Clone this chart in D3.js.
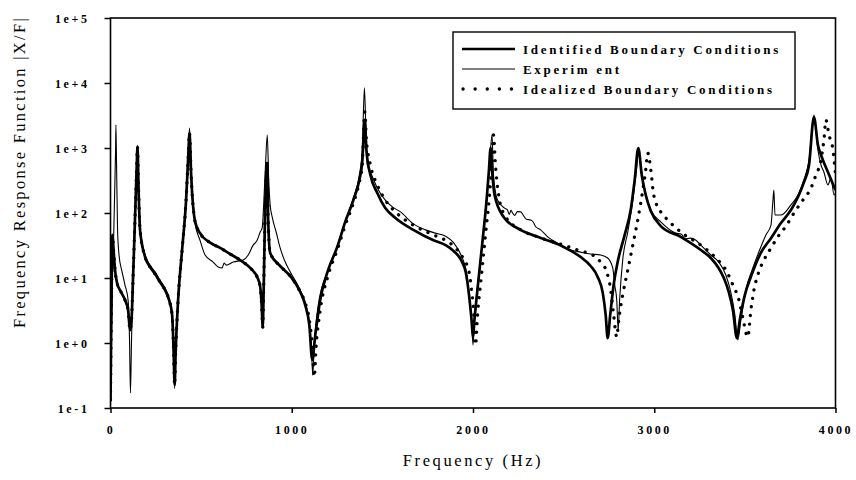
<!DOCTYPE html>
<html>
<head>
<meta charset="utf-8">
<script src="https://cdn.jsdelivr.net/npm/d3@7/dist/d3.min.js"></script>
<style>
  html, body { margin: 0; padding: 0; background: #fff; }
  svg { display: block; }
  text { font-family: "Liberation Serif", "DejaVu Serif", serif; fill: #000; }
</style>
</head>
<body>
<svg id="chart" width="856" height="480"></svg>
<script>
// ---------------- data (Hz, |X/F|) ----------------
const xTicks = [0, 1000, 2000, 3000, 4000];
const yTicks = [1e-1, 1e0, 1e1, 1e2, 1e3, 1e4, 1e5];
const yTickLabels = ["1e-1", "1e+0", "1e+1", "1e+2", "1e+3", "1e+4", "1e+5"];
const legendLabels = ["Identified Boundary Conditions", "Experim ent", "Idealized Boundary Conditions"];

const identified = [
  [0,0.133],[5.5,4.6],[11,46],[17,27],[25,13.3],[36,8.4],[58,6.1],[80,4.6],[97,3.2],[108,1.58],
  [116,2.26],[124,9.3],[135,78],[144,459],[149,1036],[155,226],[163,55],[191,21],[218,14.8],[246,11.5],
  [273,8.7],[301,6.5],[323,4.6],[340,2.7],[348,0.78],[354,0.226],[359,0.65],[373,4.6],[395,27],[417,158],
  [428,653],[436,1700],[445,384],[467,73],[494,49],[550,35],[605,29],[660,23.4],[715,18.9],[760,15.3],
  [787,12.8],[809,10.4],[826,7.3],[834,3.8],[840,1.76],[845,6.5],[851,55],[859,384],[865,588],[870,78],
  [881,24.3],[936,15.3],[992,10.7],[1047,6.1],[1075,3.8],[1097,1.89],[1113,0.55],[1130,1.33],[1157,4.6],[1201,13.3],
  [1251,30],[1295,73],[1340,158],[1373,322],[1389,609],[1403,2700],[1412,931],[1434,384],[1472,203],[1516,119],
  [1572,84],[1671,55],[1782,38],[1849,32],[1893,26],[1934,18.9],[1961,11.9],[1978,5.5],[1992,2.26],[2000,1.24],
  [2008,2.26],[2030,9.3],[2053,38],[2075,158],[2088,459],[2097,1000],[2105,459],[2119,189],[2169,87],[2263,55],
  [2356,43],[2500,30],[2594,21],[2649,15.3],[2688,10.4],[2716,5.9],[2732,2.7],[2743,1.19],[2757,2.7],[2776,7.8],
  [2798,17.6],[2837,46],[2870,111],[2892,322],[2912,1000],[2931,384],[2953,189],[2981,107],[3036,63],[3146,43],
  [3257,27],[3312,20.3],[3351,14.8],[3384,10],[3411,6.1],[3434,3.2],[3456,1.19],[3472,2.26],[3500,5.5],[3533,10.4],
  [3588,24.3],[3644,41],[3699,70],[3754,111],[3793,176],[3826,300],[3854,548],[3881,3000],[3903,1110],[3920,780],
  [3958,427],[4000,226]
];

const experiment = [
  [0,0.111],[5.5,1.58],[11,13.3],[17,38],[22,158],[28,931],[30,2260],[33,653],[39,55],[47,22.6],
  [64,12.4],[80,7.8],[97,4.6],[105,1.11],[110,0.17],[116,1.11],[124,9.3],[135,93],[144,548],[149,1110],
  [155,270],[163,59],[191,22.6],[218,15.8],[246,12.4],[273,9.3],[301,7.0],[323,4.9],[340,2.7],[348,0.65],
  [354,0.20],[359,0.78],[373,4.9],[395,29],[417,170],[428,702],[436,2030],[445,459],[467,70],[494,38],
  [522,22.6],[566,17.6],[594,14.8],[616,14.3],[627,17],[638,15.8],[677,17.6],[732,18.9],[760,22.6],[787,32],
  [809,38],[826,51],[837,59],[845,133],[854,459],[865,1585],[873,322],[881,133],[892,87],[914,51],
  [936,29],[964,17.6],[992,12.4],[1047,6.5],[1075,4.1],[1097,2.03],[1108,0.93],[1116,0.32],[1124,0.93],[1146,3.8],
  [1201,13.3],[1251,31],[1295,75],[1340,170],[1373,384],[1389,931],[1401,8400],[1409,1890],[1417,548],[1434,427],
  [1472,243],[1516,158],[1555,124],[1600,104],[1671,68],[1738,55],[1793,49],[1849,44],[1893,35],[1934,22.6],
  [1961,13.3],[1978,5.9],[1992,2.26],[2000,0.93],[2008,2.4],[2030,10],[2053,41],[2075,170],[2091,548],[2105,1585],
  [2113,384],[2135,158],[2174,119],[2190,112],[2200,95],[2210,110],[2218,100],[2230,92],[2245,105],[2263,104],
  [2280,90],[2295,80],[2318,78],[2330,74],[2345,62],[2373,55],[2412,43],[2461,35],[2539,27],[2594,25],
  [2649,23.4],[2704,22.6],[2743,20.3],[2771,14.3],[2782,7.8],[2793,4.6],[2801,1.58],[2809,4.6],[2826,18.9],[2854,51],
  [2882,158],[2903,492],[2914,931],[2925,548],[2948,226],[2981,111],[3036,73],[3119,49],[3150,47],[3170,40],
  [3201,41],[3230,38],[3257,32],[3312,22.6],[3356,17.6],[3395,11.1],[3422,6.1],[3445,2.7],[3461,1.11],[3478,2.26],
  [3505,6.5],[3544,14.3],[3588,30],[3616,46],[3644,65],[3655,158],[3660,226],[3666,93],[3699,93],[3754,133],
  [3793,189],[3826,322],[3854,653],[3881,3220],[3903,931],[3920,548],[3936,427],[3958,270],[3975,345],[3992,189],
  [4000,203]
];

const idealized = [
  [0,0.133],[5.5,4.6],[11,46],[17,27],[25,13.3],[36,8.4],[58,6.1],[80,4.6],[97,3.2],[108,1.58],
  [116,2.26],[124,9.3],[135,78],[144,459],[149,1036],[155,226],[163,55],[191,21],[218,14.8],[246,11.5],
  [273,8.7],[301,6.5],[323,4.6],[340,2.7],[348,0.78],[354,0.226],[359,0.65],[373,4.6],[395,27],[417,158],
  [428,653],[436,1700],[445,384],[467,73],[494,49],[550,35],[605,29],[660,23.4],[715,18.9],[760,15.3],
  [787,12.8],[809,10.4],[826,7.3],[834,3.8],[840,1.76],[845,6.5],[851,55],[859,384],[865,588],[870,78],
  [881,24.3],[936,15.3],[992,10.7],[1047,6.1],[1075,4.1],[1097,2.26],[1113,0.93],[1124,0.30],[1135,0.93],[1157,3.2],
  [1201,11.1],[1251,27],[1295,65],[1340,143],[1373,300],[1389,548],[1403,3580],[1412,1330],[1434,548],[1472,270],
  [1516,158],[1572,104],[1671,65],[1782,46],[1849,38],[1904,29],[1945,20.3],[1978,12.4],[1992,6.5],[2003,3.2],
  [2014,0.93],[2025,2.7],[2047,11.1],[2069,46],[2091,189],[2105,653],[2113,1585],[2124,548],[2141,189],[2174,93],
  [2263,55],[2356,43],[2500,32],[2594,26],[2660,22.6],[2704,17.6],[2738,12.4],[2760,6.5],[2776,2.7],[2793,1.24],
  [2804,2.26],[2826,5.5],[2854,13.3],[2887,38],[2914,93],[2937,226],[2953,459],[2964,837],[2981,459],[2997,189],
  [3036,104],[3075,78],[3146,51],[3257,32],[3340,20.3],[3395,13.3],[3434,7.8],[3467,4.6],[3489,2.4],[3516,1.24],
  [3533,3.2],[3550,6.5],[3577,12.4],[3605,18.9],[3644,29],[3682,43],[3727,63],[3771,100],[3820,158],[3865,243],
  [3892,384],[3920,653],[3936,1330],[3947,2700],[3964,1585],[3986,931],[4000,384]
];

// ---------------- layout ----------------
const svg = d3.select("#chart");
const L = 110.5, R = 835.5, T = 18, B = 408;
const x = d3.scaleLinear().domain([0, 4000]).range([L, R]);
const y = d3.scaleLog().domain([0.1, 1e5]).range([B, T]);

svg.append("defs").append("clipPath").attr("id", "plotclip")
  .append("rect").attr("x", L).attr("y", T - 2).attr("width", R - L).attr("height", B - T + 4);

const line = d3.line().curve(d3.curveMonotoneX).x(d => x(d[0])).y(d => y(d[1]));
const plot = svg.append("g").attr("clip-path", "url(#plotclip)");

plot.append("path").datum(idealized).attr("d", line)
  .attr("fill", "none").attr("stroke", "#000").attr("stroke-width", 3.3)
  .attr("stroke-linecap", "round").attr("stroke-dasharray", "0.1 8.5");
plot.append("path").datum(experiment).attr("d", line)
  .attr("fill", "none").attr("stroke", "#000").attr("stroke-width", 1.1)
  .attr("stroke-linejoin", "round");
plot.append("path").datum(identified).attr("d", line)
  .attr("fill", "none").attr("stroke", "#000").attr("stroke-width", 2.7)
  .attr("stroke-linejoin", "round");

// frame
svg.append("rect").attr("x", L).attr("y", T).attr("width", R - L).attr("height", B - T)
  .attr("fill", "none").attr("stroke", "#000").attr("stroke-width", 1.6);

// axes
const xAxis = d3.axisBottom(x).tickValues(xTicks).tickSize(5).tickPadding(12).tickFormat(d3.format("d"));
const gx = svg.append("g").attr("transform", `translate(0,${B})`).call(xAxis);
const yAxis = d3.axisLeft(y).tickValues(yTicks).tickSize(6).tickPadding(15)
  .tickFormat((d, i) => yTickLabels[i]);
const gy = svg.append("g").attr("transform", `translate(${L},0)`).call(yAxis);

[gx, gy].forEach(g => {
  g.select(".domain").remove();
  g.selectAll(".tick line").attr("stroke", "#000").attr("stroke-width", 1.5);
  g.selectAll(".tick text")
    .style("font-family", "'Liberation Serif', serif")
    .style("font-weight", "bold").style("font-size", "12px")
    .style("letter-spacing", "2.6px").attr("fill", "#000");
});
gy.selectAll(".tick text").attr("dy", "0.35em");

// axis titles
svg.append("text").attr("x", 473).attr("y", 466).attr("text-anchor", "middle")
  .style("font-size", "16.5px").style("letter-spacing", "2.6px")
  .text("Frequency (Hz)");
svg.append("text").attr("transform", "translate(25,172) rotate(-90)").attr("text-anchor", "middle")
  .style("font-size", "16.5px").style("letter-spacing", "2.3px")
  .text("Frequency Response Function |X/F|");

// legend
const lg = svg.append("g");
lg.append("rect").attr("x", 453).attr("y", 32).attr("width", 342).attr("height", 77)
  .attr("fill", "#fff").attr("stroke", "#000").attr("stroke-width", 1.4);
const rows = [49, 69, 89];
lg.append("line").attr("x1", 462).attr("x2", 515).attr("y1", rows[0]).attr("y2", rows[0])
  .attr("stroke", "#000").attr("stroke-width", 2.7);
lg.append("line").attr("x1", 462).attr("x2", 515).attr("y1", rows[1]).attr("y2", rows[1])
  .attr("stroke", "#000").attr("stroke-width", 1.1);
lg.append("line").attr("x1", 463).attr("x2", 515).attr("y1", rows[2]).attr("y2", rows[2])
  .attr("stroke", "#000").attr("stroke-width", 3.3).attr("stroke-linecap", "round")
  .attr("stroke-dasharray", "0.1 12");
legendLabels.forEach((t, i) => {
  lg.append("text").attr("x", 523).attr("y", rows[i]).attr("dy", "0.35em")
    .style("font-weight", "bold").style("font-size", "13px").style("letter-spacing", "2.7px")
    .text(t);
});
</script>
</body>
</html>
